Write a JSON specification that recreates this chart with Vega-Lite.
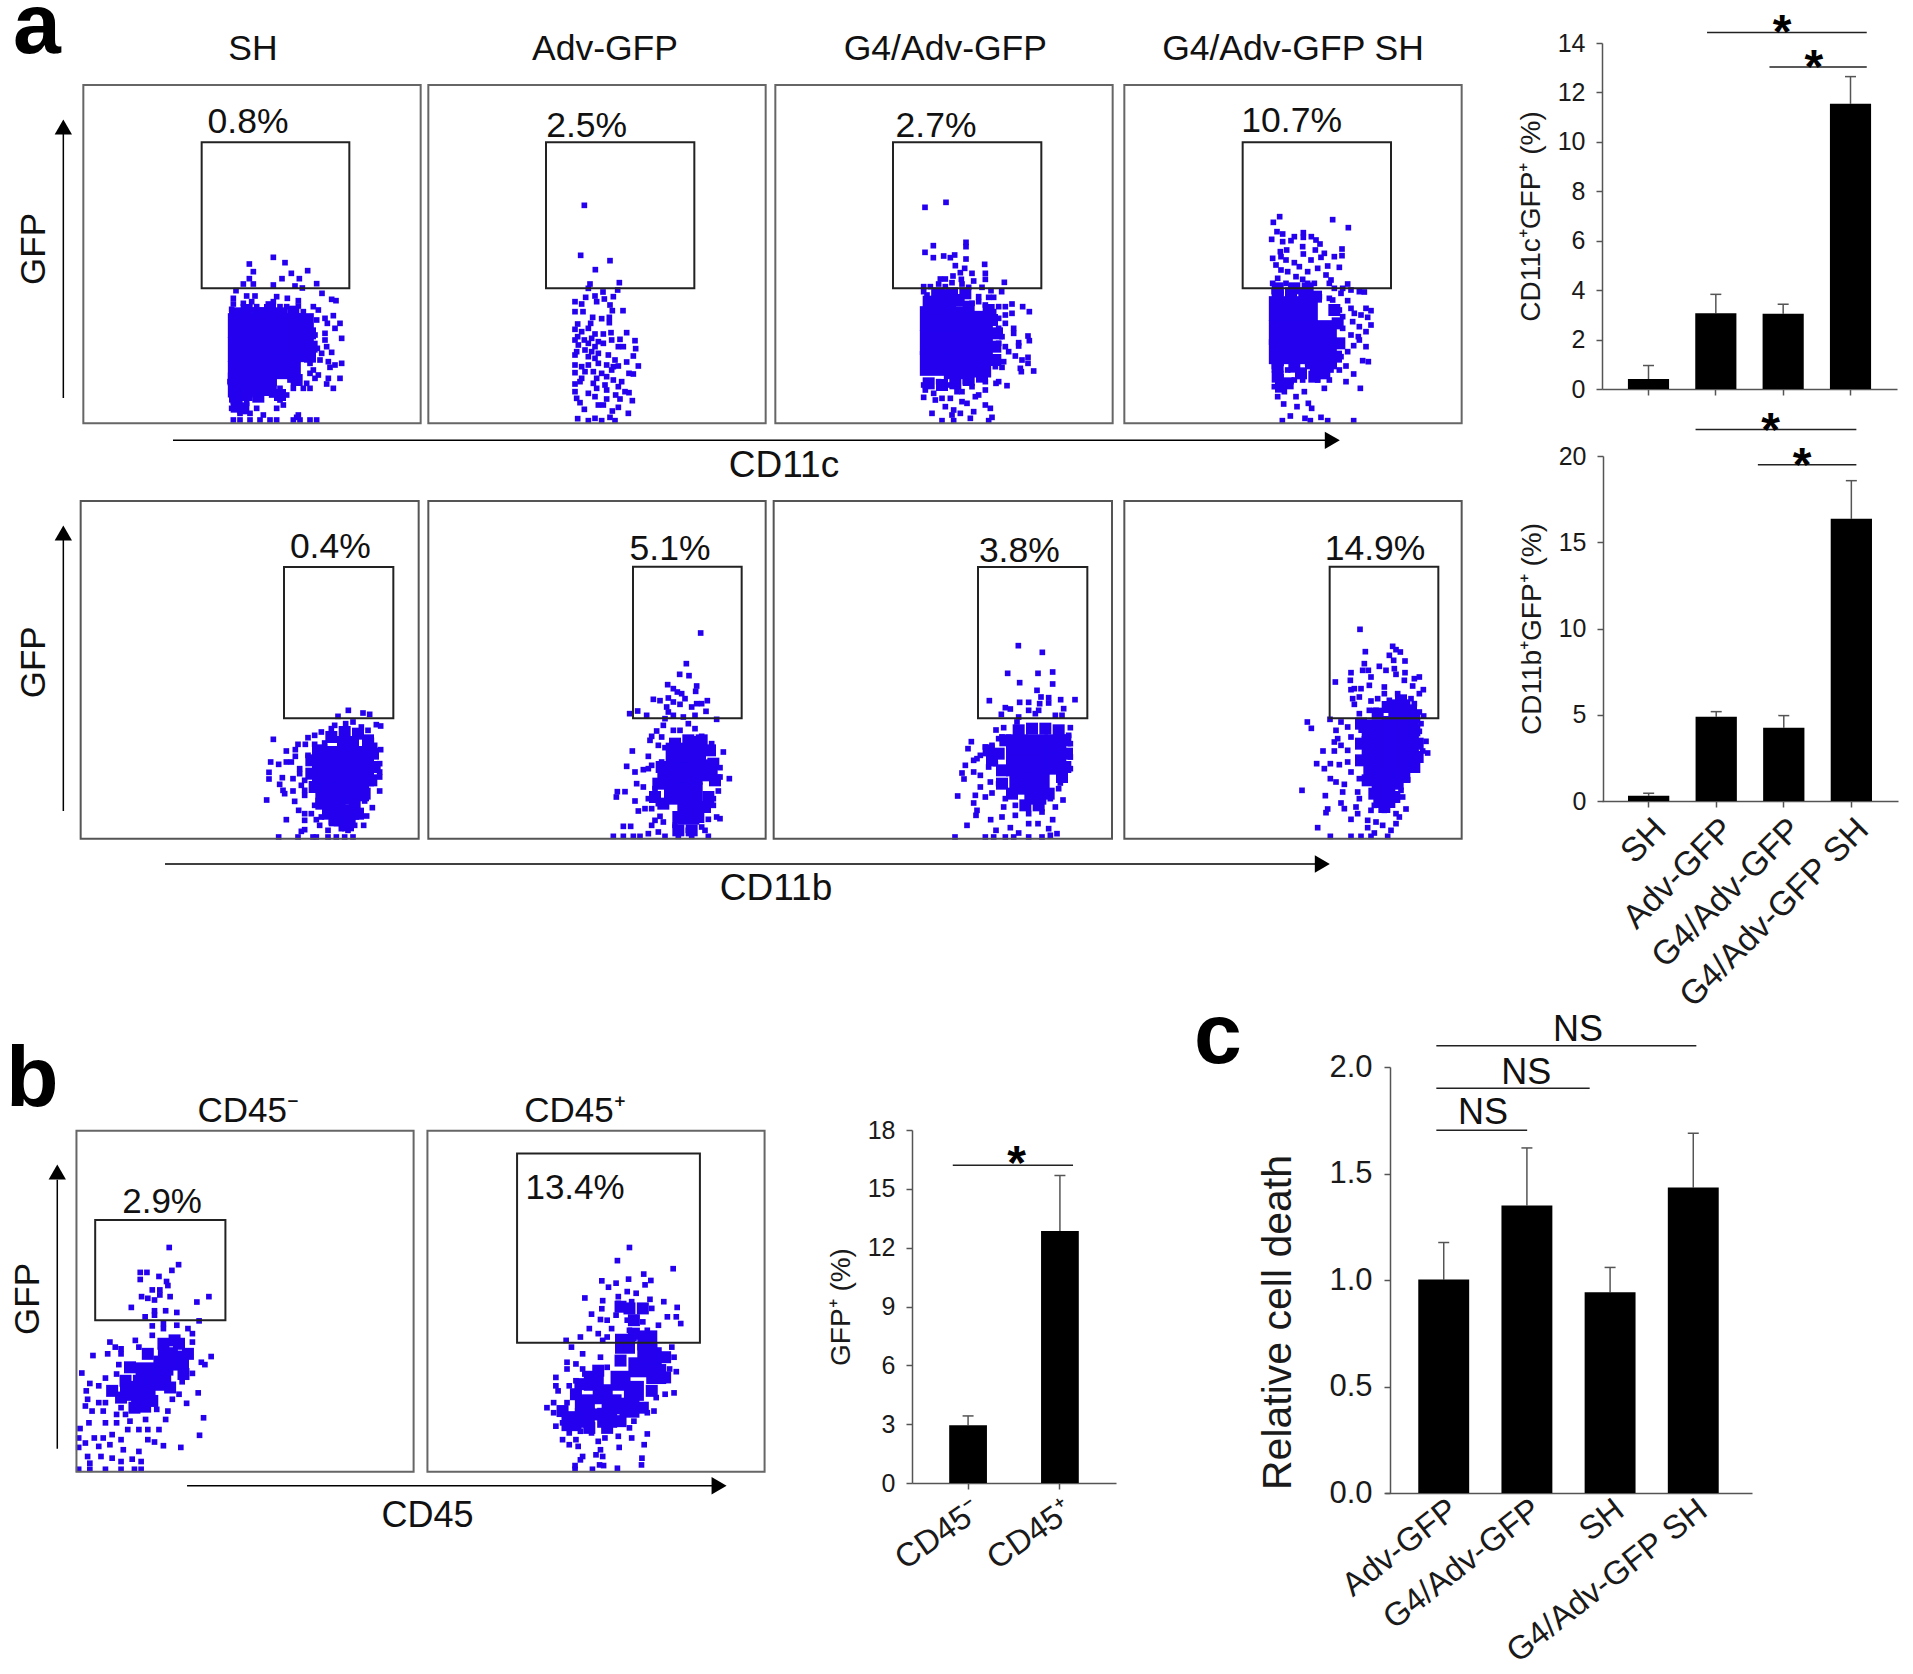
{"$schema":"https://vega.github.io/schema/vega-lite/v6.json","width":1913,"height":1674,"padding":0,"autosize":"none","background":"white",
"config":{"font":"Liberation Sans","view":{"stroke":null},"axis":{"grid":false,"domainColor":"#555","tickColor":"#555","domainWidth":1.5,"tickWidth":1.5,"tickSize":6,"labelColor":"#1a1a1a","titleColor":"#1a1a1a","titleFontWeight":"normal","labelFontSize":25,"labelOverlap":false,"labelPadding":11,"labelLimit":600}},
"resolve":{"scale":{"x":"independent","y":"independent"}},
"datasets":{
"a1m":[{"x":465,"y":700},{"x":500,"y":690},{"x":535,"y":700},{"x":570,"y":690},{"x":605,"y":700},{"x":640,"y":695},{"x":465,"y":950},{"x":500,"y":945},{"x":535,"y":950},{"x":570,"y":930},{"x":600,"y":945},{"x":690,"y":760},{"x":695,"y":800},{"x":690,"y":830},{"x":650,"y":900},{"x":470,"y":980},{"x":490,"y":985},{"x":640,"y":880}],
"a3m":[{"x":470,"y":665},{"x":560,"y":660},{"x":590,"y":680},{"x":650,"y":690},{"x":660,"y":720},{"x":675,"y":760},{"x":670,"y":800},{"x":670,"y":840},{"x":470,"y":910},{"x":510,"y":915},{"x":550,"y":910},{"x":590,"y":900},{"x":630,"y":890},{"x":540,"y":640},{"x":500,"y":640},{"x":580,"y":640}],
"a4m":[{"x":470,"y":645},{"x":510,"y":640},{"x":550,"y":640},{"x":585,"y":650},{"x":640,"y":690},{"x":650,"y":730},{"x":655,"y":790},{"x":645,"y":830},{"x":630,"y":850},{"x":470,"y":860},{"x":520,"y":860},{"x":570,"y":850},{"x":600,"y":860},{"x":470,"y":890},{"x":500,"y":910},{"x":480,"y":920},{"x":580,"y":890},{"x":610,"y":880},{"x":540,"y":880},{"x":470,"y":625},{"x":520,"y":625},{"x":560,"y":625}],
"r1m":[{"x":760,"y":720},{"x":800,"y":705},{"x":840,"y":710},{"x":870,"y":730},{"x":885,"y":770},{"x":890,"y":810},{"x":880,"y":850},{"x":860,"y":890},{"x":700,"y":790},{"x":700,"y":830},{"x":710,"y":870},{"x":730,"y":920},{"x":830,"y":925},{"x":770,"y":970},{"x":810,"y":985},{"x":750,"y":950},{"x":730,"y":760},{"x":840,"y":950}],
"r2m":[{"x":750,"y":740},{"x":790,"y":730},{"x":830,"y":730},{"x":855,"y":760},{"x":865,"y":800},{"x":870,"y":850},{"x":850,"y":900},{"x":710,"y":810},{"x":700,"y":860},{"x":690,"y":900},{"x":715,"y":920},{"x":840,"y":930},{"x":760,"y":960},{"x":820,"y":960},{"x":760,"y":1000},{"x":800,"y":1000},{"x":800,"y":735},{"x":715,"y":840}],
"r3m":[{"x":740,"y":700},{"x":780,"y":695},{"x":820,"y":695},{"x":860,"y":700},{"x":880,"y":730},{"x":885,"y":770},{"x":880,"y":810},{"x":700,"y":730},{"x":680,"y":770},{"x":660,"y":790},{"x":690,"y":820},{"x":690,"y":860},{"x":720,"y":890},{"x":830,"y":890},{"x":760,"y":925},{"x":800,"y":925},{"x":650,"y":760},{"x":870,"y":840}],
"r4m":[{"x":800,"y":630},{"x":840,"y":610},{"x":870,"y":640},{"x":770,"y":650},{"x":730,"y":690},{"x":880,"y":700},{"x":890,"y":740},{"x":890,"y":780},{"x":720,"y":740},{"x":720,"y":790},{"x":880,"y":810},{"x":850,"y":840},{"x":740,"y":850},{"x":830,"y":860},{"x":760,"y":890},{"x":820,"y":900},{"x":790,"y":930},{"x":720,"y":680},{"x":880,"y":660}],
"b1m":[{"x":120,"y":760},{"x":110,"y":810},{"x":140,"y":840},{"x":180,"y":820},{"x":220,"y":780},{"x":250,"y":740},{"x":260,"y":680},{"x":240,"y":650},{"x":205,"y":650},{"x":170,"y":680},{"x":130,"y":720},{"x":90,"y":790},{"x":150,"y":760},{"x":230,"y":640}],
"b2m":[{"x":1130,"y":800},{"x":1100,"y":850},{"x":1170,"y":860},{"x":1230,"y":880},{"x":1300,"y":790},{"x":1330,"y":750},{"x":1330,"y":690},{"x":1230,"y":700},{"x":1180,"y":730},{"x":1140,"y":770},{"x":1280,"y":840},{"x":1260,"y":580},{"x":1250,"y":545},{"x":1280,"y":545},{"x":1230,"y":540},{"x":1260,"y":620},{"x":1160,"y":900},{"x":1200,"y":900}],
"a1c":[{"x":481,"y":737},{"x":553,"y":737},{"x":625,"y":737},{"x":664,"y":737},{"x":481,"y":809},{"x":553,"y":809},{"x":625,"y":809},{"x":664,"y":809},{"x":481,"y":881},{"x":553,"y":881},{"x":625,"y":860},{"x":481,"y":915},{"x":553,"y":905}],
"a1":[{"x":580,"y":532},{"x":508,"y":552},{"x":615,"y":548},{"x":520,"y":575},{"x":683,"y":572},{"x":634,"y":580},{"x":508,"y":596},{"x":606,"y":596},{"x":658,"y":596},{"x":490,"y":612},{"x":580,"y":615},{"x":710,"y":611},{"x":520,"y":612},{"x":645,"y":618},{"x":667,"y":624},{"x":468,"y":632},{"x":726,"y":640},{"x":500,"y":648},{"x":525,"y":648},{"x":590,"y":650},{"x":460,"y":655},{"x":755,"y":658},{"x":768,"y":662},{"x":622,"y":655},{"x":655,"y":662},{"x":580,"y":665},{"x":565,"y":672},{"x":515,"y":665},{"x":460,"y":672},{"x":455,"y":688},{"x":490,"y":670},{"x":530,"y":680},{"x":620,"y":680},{"x":600,"y":680},{"x":655,"y":678},{"x":700,"y":680},{"x":715,"y":690},{"x":520,"y":690},{"x":670,"y":695},{"x":545,"y":690},{"x":760,"y":707},{"x":735,"y":715},{"x":710,"y":720},{"x":780,"y":730},{"x":742,"y":730},{"x":765,"y":745},{"x":690,"y":725},{"x":655,"y":715},{"x":735,"y":760},{"x":705,"y":765},{"x":785,"y":775},{"x":735,"y":780},{"x":712,"y":805},{"x":725,"y":820},{"x":755,"y":817},{"x":740,"y":800},{"x":785,"y":850},{"x":765,"y":855},{"x":745,"y":845},{"x":720,"y":840},{"x":690,"y":850},{"x":750,"y":862},{"x":700,"y":870},{"x":715,"y":885},{"x":690,"y":880},{"x":745,"y":895},{"x":780,"y":895},{"x":705,"y":895},{"x":740,"y":912},{"x":760,"y":925},{"x":690,"y":925},{"x":670,"y":925},{"x":680,"y":910},{"x":640,"y":925},{"x":620,"y":945},{"x":600,"y":960},{"x":610,"y":975},{"x":590,"y":985},{"x":575,"y":945},{"x":540,"y":945},{"x":500,"y":970},{"x":470,"y":950},{"x":460,"y":965},{"x":455,"y":985},{"x":480,"y":1000},{"x":530,"y":985},{"x":510,"y":1000},{"x":550,"y":1005},{"x":655,"y":1005},{"x":540,"y":1020},{"x":460,"y":1020},{"x":480,"y":1020},{"x":510,"y":1020},{"x":590,"y":1020},{"x":570,"y":1020},{"x":640,"y":1020},{"x":660,"y":1020},{"x":690,"y":1020},{"x":710,"y":1020},{"x":650,"y":1012},{"x":450,"y":905},{"x":455,"y":925},{"x":465,"y":940},{"x":490,"y":925},{"x":520,"y":935},{"x":630,"y":900},{"x":600,"y":925},{"x":560,"y":935}],
"a2":[{"x":478,"y":376},{"x":467,"y":526},{"x":555,"y":542},{"x":511,"y":569},{"x":495,"y":612},{"x":583,"y":608},{"x":490,"y":625},{"x":578,"y":630},{"x":534,"y":636},{"x":482,"y":652},{"x":510,"y":648},{"x":565,"y":650},{"x":450,"y":665},{"x":470,"y":672},{"x":515,"y":665},{"x":538,"y":657},{"x":555,"y":675},{"x":562,"y":692},{"x":594,"y":692},{"x":450,"y":695},{"x":474,"y":695},{"x":503,"y":712},{"x":530,"y":716},{"x":553,"y":712},{"x":553,"y":728},{"x":497,"y":730},{"x":458,"y":732},{"x":450,"y":748},{"x":470,"y":755},{"x":490,"y":745},{"x":458,"y":770},{"x":510,"y":762},{"x":535,"y":762},{"x":558,"y":758},{"x":605,"y":758},{"x":450,"y":780},{"x":478,"y":780},{"x":500,"y":775},{"x":520,"y":785},{"x":560,"y":780},{"x":585,"y":778},{"x":630,"y":782},{"x":460,"y":795},{"x":490,"y":790},{"x":510,"y":800},{"x":535,"y":790},{"x":580,"y":800},{"x":595,"y":800},{"x":632,"y":806},{"x":455,"y":815},{"x":480,"y":810},{"x":500,"y":815},{"x":520,"y":820},{"x":550,"y":825},{"x":625,"y":828},{"x":450,"y":825},{"x":490,"y":830},{"x":510,"y":835},{"x":570,"y":840},{"x":605,"y":846},{"x":450,"y":855},{"x":470,"y":860},{"x":490,"y":855},{"x":520,"y":850},{"x":545,"y":855},{"x":565,"y":860},{"x":580,"y":858},{"x":640,"y":858},{"x":450,"y":878},{"x":480,"y":875},{"x":505,"y":875},{"x":530,"y":880},{"x":560,"y":870},{"x":612,"y":880},{"x":625,"y":882},{"x":470,"y":895},{"x":515,"y":895},{"x":545,"y":890},{"x":565,"y":900},{"x":590,"y":905},{"x":450,"y":912},{"x":465,"y":905},{"x":505,"y":910},{"x":540,"y":915},{"x":580,"y":920},{"x":450,"y":935},{"x":490,"y":940},{"x":515,"y":925},{"x":545,"y":930},{"x":600,"y":935},{"x":612,"y":938},{"x":455,"y":955},{"x":510,"y":950},{"x":545,"y":957},{"x":572,"y":945},{"x":585,"y":957},{"x":622,"y":962},{"x":465,"y":968},{"x":520,"y":975},{"x":535,"y":975},{"x":580,"y":982},{"x":478,"y":988},{"x":562,"y":993},{"x":610,"y":1000},{"x":458,"y":1016},{"x":490,"y":1022},{"x":510,"y":1015},{"x":530,"y":1022},{"x":555,"y":1012},{"x":570,"y":1022}],
"a3c":[{"x":481,"y":716},{"x":553,"y":716},{"x":625,"y":730},{"x":481,"y":788},{"x":553,"y":788},{"x":625,"y":795},{"x":481,"y":850},{"x":553,"y":860},{"x":620,"y":855},{"x":515,"y":665}],
"a3":[{"x":522,"y":367},{"x":459,"y":382},{"x":582,"y":487},{"x":582,"y":500},{"x":484,"y":497},{"x":459,"y":517},{"x":484,"y":533},{"x":515,"y":528},{"x":535,"y":533},{"x":548,"y":525},{"x":582,"y":537},{"x":550,"y":557},{"x":638,"y":553},{"x":578,"y":565},{"x":565,"y":578},{"x":640,"y":580},{"x":600,"y":580},{"x":640,"y":598},{"x":543,"y":588},{"x":505,"y":597},{"x":520,"y":597},{"x":568,"y":598},{"x":605,"y":603},{"x":697,"y":607},{"x":500,"y":612},{"x":540,"y":608},{"x":570,"y":612},{"x":455,"y":620},{"x":475,"y":620},{"x":630,"y":622},{"x":455,"y":635},{"x":520,"y":620},{"x":590,"y":622},{"x":657,"y":632},{"x":689,"y":635},{"x":465,"y":645},{"x":620,"y":650},{"x":650,"y":652},{"x":665,"y":652},{"x":620,"y":665},{"x":600,"y":670},{"x":640,"y":675},{"x":720,"y":672},{"x":752,"y":680},{"x":772,"y":695},{"x":680,"y":680},{"x":700,"y":680},{"x":720,"y":700},{"x":665,"y":695},{"x":700,"y":705},{"x":680,"y":715},{"x":665,"y":715},{"x":700,"y":730},{"x":725,"y":745},{"x":680,"y":745},{"x":725,"y":760},{"x":690,"y":770},{"x":768,"y":768},{"x":772,"y":782},{"x":740,"y":788},{"x":740,"y":798},{"x":700,"y":800},{"x":680,"y":790},{"x":710,"y":815},{"x":730,"y":828},{"x":768,"y":832},{"x":750,"y":840},{"x":768,"y":850},{"x":695,"y":845},{"x":690,"y":862},{"x":745,"y":865},{"x":748,"y":875},{"x":785,"y":873},{"x":670,"y":860},{"x":680,"y":905},{"x":672,"y":910},{"x":705,"y":917},{"x":640,"y":905},{"x":600,"y":920},{"x":570,"y":935},{"x":640,"y":930},{"x":620,"y":945},{"x":455,"y":915},{"x":460,"y":930},{"x":455,"y":952},{"x":485,"y":940},{"x":490,"y":960},{"x":510,"y":955},{"x":535,"y":955},{"x":555,"y":935},{"x":610,"y":950},{"x":570,"y":965},{"x":585,"y":970},{"x":640,"y":975},{"x":655,"y":985},{"x":480,"y":1000},{"x":545,"y":990},{"x":540,"y":1005},{"x":565,"y":1000},{"x":605,"y":995},{"x":660,"y":1012},{"x":510,"y":1022},{"x":545,"y":1022},{"x":595,"y":1015},{"x":650,"y":1022},{"x":520,"y":980},{"x":500,"y":905},{"x":530,"y":915},{"x":580,"y":905}],
"a4c":[{"x":481,"y":686},{"x":553,"y":686},{"x":481,"y":758},{"x":553,"y":758},{"x":610,"y":758},{"x":481,"y":815},{"x":553,"y":815},{"x":610,"y":810}],
"a4":[{"x":476,"y":410},{"x":635,"y":419},{"x":457,"y":427},{"x":682,"y":443},{"x":468,"y":455},{"x":485,"y":462},{"x":547,"y":458},{"x":547,"y":472},{"x":520,"y":470},{"x":571,"y":470},{"x":452,"y":478},{"x":485,"y":485},{"x":510,"y":482},{"x":585,"y":480},{"x":597,"y":492},{"x":545,"y":500},{"x":478,"y":515},{"x":497,"y":510},{"x":663,"y":507},{"x":583,"y":510},{"x":547,"y":522},{"x":610,"y":520},{"x":663,"y":527},{"x":640,"y":530},{"x":480,"y":530},{"x":455,"y":535},{"x":570,"y":540},{"x":600,"y":532},{"x":495,"y":540},{"x":520,"y":548},{"x":465,"y":555},{"x":535,"y":560},{"x":620,"y":558},{"x":655,"y":562},{"x":590,"y":565},{"x":560,"y":575},{"x":480,"y":570},{"x":500,"y":575},{"x":615,"y":585},{"x":525,"y":590},{"x":470,"y":595},{"x":630,"y":600},{"x":455,"y":610},{"x":545,"y":598},{"x":495,"y":610},{"x":560,"y":610},{"x":680,"y":612},{"x":580,"y":610},{"x":510,"y":620},{"x":625,"y":610},{"x":665,"y":625},{"x":640,"y":625},{"x":690,"y":630},{"x":715,"y":635},{"x":730,"y":636},{"x":460,"y":635},{"x":480,"y":640},{"x":625,"y":655},{"x":660,"y":640},{"x":595,"y":650},{"x":680,"y":662},{"x":635,"y":660},{"x":655,"y":690},{"x":690,"y":685},{"x":735,"y":685},{"x":750,"y":692},{"x":700,"y":700},{"x":720,"y":705},{"x":740,"y":712},{"x":665,"y":710},{"x":695,"y":725},{"x":750,"y":735},{"x":715,"y":740},{"x":735,"y":755},{"x":665,"y":745},{"x":690,"y":765},{"x":712,"y":770},{"x":715,"y":780},{"x":698,"y":797},{"x":735,"y":800},{"x":680,"y":815},{"x":660,"y":830},{"x":725,"y":842},{"x":742,"y":845},{"x":675,"y":858},{"x":655,"y":870},{"x":698,"y":882},{"x":675,"y":905},{"x":718,"y":925},{"x":610,"y":925},{"x":625,"y":900},{"x":470,"y":950},{"x":460,"y":920},{"x":490,"y":935},{"x":510,"y":905},{"x":550,"y":935},{"x":545,"y":900},{"x":590,"y":900},{"x":460,"y":860},{"x":480,"y":890},{"x":525,"y":950},{"x":488,"y":972},{"x":528,"y":980},{"x":562,"y":970},{"x":572,"y":985},{"x":508,"y":1008},{"x":552,"y":1015},{"x":600,"y":1012},{"x":620,"y":1022},{"x":698,"y":1022},{"x":484,"y":1022},{"x":568,"y":1022},{"x":465,"y":880},{"x":575,"y":870},{"x":600,"y":880},{"x":630,"y":870},{"x":500,"y":870},{"x":520,"y":900},{"x":480,"y":850},{"x":560,"y":850}],
"r1c":[{"x":735,"y":780},{"x":795,"y":780},{"x":855,"y":780},{"x":735,"y":840},{"x":795,"y":840},{"x":855,"y":835},{"x":745,"y":890},{"x":795,"y":890},{"x":840,"y":880},{"x":770,"y":930},{"x":800,"y":955},{"x":810,"y":750}],
"r1":[{"x":811,"y":640},{"x":855,"y":648},{"x":875,"y":652},{"x":780,"y":658},{"x":803,"y":680},{"x":825,"y":675},{"x":770,"y":685},{"x":895,"y":683},{"x":908,"y":687},{"x":850,"y":690},{"x":760,"y":695},{"x":800,"y":700},{"x":870,"y":700},{"x":730,"y":705},{"x":690,"y":722},{"x":710,"y":715},{"x":586,"y":727},{"x":880,"y":730},{"x":740,"y":738},{"x":660,"y":742},{"x":682,"y":742},{"x":710,"y":742},{"x":890,"y":745},{"x":625,"y":762},{"x":652,"y":758},{"x":908,"y":758},{"x":690,"y":775},{"x":652,"y":778},{"x":578,"y":795},{"x":602,"y":802},{"x":625,"y":795},{"x":640,"y":795},{"x":905,"y":800},{"x":905,"y":825},{"x":573,"y":826},{"x":665,"y":815},{"x":613,"y":842},{"x":573,"y":846},{"x":645,"y":845},{"x":665,"y":830},{"x":680,"y":850},{"x":905,"y":840},{"x":605,"y":862},{"x":670,"y":865},{"x":615,"y":880},{"x":645,"y":882},{"x":680,"y":880},{"x":905,"y":882},{"x":620,"y":890},{"x":680,"y":895},{"x":566,"y":909},{"x":650,"y":913},{"x":860,"y":912},{"x":710,"y":925},{"x":662,"y":940},{"x":883,"y":932},{"x":680,"y":950},{"x":700,"y":950},{"x":625,"y":968},{"x":866,"y":957},{"x":680,"y":970},{"x":715,"y":968},{"x":730,"y":960},{"x":760,"y":975},{"x":835,"y":960},{"x":725,"y":985},{"x":830,"y":985},{"x":857,"y":985},{"x":680,"y":998},{"x":670,"y":1003},{"x":750,"y":1000},{"x":790,"y":995},{"x":810,"y":1000},{"x":602,"y":1020},{"x":660,"y":1020},{"x":705,"y":1020},{"x":715,"y":1020},{"x":750,"y":1020},{"x":775,"y":1020},{"x":800,"y":1020},{"x":825,"y":1020}],
"r2c":[{"x":755,"y":770},{"x":810,"y":770},{"x":750,"y":830},{"x":800,"y":830},{"x":845,"y":820},{"x":750,"y":890},{"x":800,"y":890},{"x":790,"y":950}],
"r2":[{"x":827,"y":408},{"x":784,"y":500},{"x":764,"y":532},{"x":792,"y":536},{"x":728,"y":563},{"x":815,"y":567},{"x":745,"y":575},{"x":812,"y":583},{"x":757,"y":585},{"x":770,"y":590},{"x":685,"y":607},{"x":705,"y":611},{"x":730,"y":603},{"x":745,"y":615},{"x":780,"y":605},{"x":847,"y":611},{"x":815,"y":620},{"x":725,"y":630},{"x":765,"y":622},{"x":800,"y":630},{"x":830,"y":620},{"x":638,"y":642},{"x":614,"y":650},{"x":843,"y":643},{"x":730,"y":645},{"x":665,"y":655},{"x":745,"y":655},{"x":775,"y":660},{"x":810,"y":655},{"x":720,"y":665},{"x":875,"y":667},{"x":715,"y":685},{"x":790,"y":680},{"x":810,"y":695},{"x":745,"y":700},{"x":765,"y":700},{"x":695,"y":702},{"x":680,"y":718},{"x":710,"y":720},{"x":830,"y":718},{"x":675,"y":730},{"x":860,"y":740},{"x":700,"y":745},{"x":720,"y":752},{"x":622,"y":762},{"x":895,"y":765},{"x":670,"y":778},{"x":680,"y":805},{"x":605,"y":808},{"x":885,"y":812},{"x":630,"y":825},{"x":655,"y":818},{"x":670,"y":815},{"x":710,"y":795},{"x":885,"y":840},{"x":913,"y":845},{"x":635,"y":860},{"x":655,"y":870},{"x":690,"y":875},{"x":880,"y":882},{"x":600,"y":884},{"x":577,"y":884},{"x":574,"y":900},{"x":670,"y":905},{"x":690,"y":895},{"x":865,"y":905},{"x":630,"y":912},{"x":865,"y":925},{"x":640,"y":942},{"x":660,"y":935},{"x":680,"y":935},{"x":700,"y":920},{"x":850,"y":967},{"x":875,"y":960},{"x":885,"y":965},{"x":705,"y":958},{"x":690,"y":970},{"x":715,"y":975},{"x":680,"y":985},{"x":595,"y":988},{"x":617,"y":988},{"x":700,"y":1005},{"x":840,"y":1000},{"x":565,"y":1018},{"x":595,"y":1018},{"x":625,"y":1018},{"x":645,"y":1018},{"x":670,"y":1010},{"x":720,"y":1018},{"x":760,"y":1018},{"x":800,"y":1018},{"x":850,"y":1018},{"x":830,"y":990},{"x":750,"y":985},{"x":790,"y":1000}],
"r3c":[{"x":735,"y":745},{"x":795,"y":745},{"x":850,"y":745},{"x":735,"y":805},{"x":795,"y":805},{"x":850,"y":800},{"x":745,"y":860},{"x":800,"y":860},{"x":790,"y":890}],
"r3":[{"x":739,"y":446},{"x":811,"y":466},{"x":707,"y":529},{"x":798,"y":529},{"x":842,"y":525},{"x":743,"y":557},{"x":842,"y":561},{"x":795,"y":580},{"x":807,"y":600},{"x":830,"y":602},{"x":652,"y":611},{"x":743,"y":616},{"x":770,"y":616},{"x":803,"y":620},{"x":866,"y":608},{"x":909,"y":608},{"x":830,"y":618},{"x":700,"y":632},{"x":715,"y":636},{"x":770,"y":640},{"x":875,"y":635},{"x":800,"y":640},{"x":688,"y":652},{"x":740,"y":660},{"x":790,"y":650},{"x":850,"y":655},{"x":870,"y":655},{"x":735,"y":675},{"x":695,"y":692},{"x":672,"y":699},{"x":895,"y":692},{"x":890,"y":715},{"x":680,"y":725},{"x":598,"y":734},{"x":640,"y":750},{"x":660,"y":745},{"x":588,"y":755},{"x":895,"y":740},{"x":625,"y":775},{"x":650,"y":770},{"x":605,"y":790},{"x":615,"y":785},{"x":895,"y":780},{"x":580,"y":805},{"x":570,"y":828},{"x":605,"y":825},{"x":895,"y":815},{"x":650,"y":810},{"x":625,"y":835},{"x":576,"y":846},{"x":655,"y":855},{"x":625,"y":870},{"x":660,"y":888},{"x":680,"y":860},{"x":865,"y":858},{"x":860,"y":875},{"x":557,"y":897},{"x":610,"y":895},{"x":640,"y":900},{"x":605,"y":918},{"x":700,"y":905},{"x":835,"y":905},{"x":873,"y":909},{"x":695,"y":930},{"x":730,"y":925},{"x":850,"y":930},{"x":615,"y":940},{"x":612,"y":955},{"x":690,"y":960},{"x":730,"y":955},{"x":770,"y":950},{"x":810,"y":945},{"x":656,"y":968},{"x":842,"y":968},{"x":770,"y":980},{"x":798,"y":980},{"x":585,"y":985},{"x":715,"y":992},{"x":672,"y":1000},{"x":830,"y":995},{"x":740,"y":1008},{"x":549,"y":1020},{"x":640,"y":1020},{"x":665,"y":1020},{"x":700,"y":1020},{"x":725,"y":1020},{"x":770,"y":1020},{"x":810,"y":1020},{"x":835,"y":1015},{"x":855,"y":1010},{"x":680,"y":770},{"x":670,"y":800},{"x":655,"y":785},{"x":690,"y":720}],
"r4c":[{"x":755,"y":700},{"x":815,"y":690},{"x":860,"y":690},{"x":755,"y":750},{"x":815,"y":750},{"x":860,"y":750},{"x":760,"y":810},{"x":815,"y":810},{"x":860,"y":790},{"x":785,"y":860},{"x":790,"y":900},{"x":835,"y":640}],
"r4":[{"x":717,"y":397},{"x":815,"y":448},{"x":825,"y":458},{"x":838,"y":465},{"x":733,"y":464},{"x":805,"y":475},{"x":852,"y":492},{"x":730,"y":500},{"x":818,"y":490},{"x":775,"y":508},{"x":820,"y":515},{"x":725,"y":520},{"x":742,"y":520},{"x":690,"y":527},{"x":795,"y":520},{"x":852,"y":527},{"x":825,"y":532},{"x":750,"y":540},{"x":688,"y":550},{"x":850,"y":550},{"x":895,"y":540},{"x":880,"y":545},{"x":643,"y":555},{"x":700,"y":575},{"x":745,"y":565},{"x":790,"y":570},{"x":875,"y":567},{"x":907,"y":578},{"x":690,"y":578},{"x":720,"y":575},{"x":895,"y":590},{"x":715,"y":600},{"x":695,"y":605},{"x":790,"y":590},{"x":830,"y":590},{"x":750,"y":612},{"x":770,"y":605},{"x":700,"y":622},{"x":805,"y":610},{"x":870,"y":605},{"x":880,"y":620},{"x":745,"y":640},{"x":715,"y":650},{"x":765,"y":640},{"x":895,"y":645},{"x":908,"y":657},{"x":627,"y":667},{"x":660,"y":675},{"x":559,"y":675},{"x":571,"y":694},{"x":680,"y":690},{"x":900,"y":680},{"x":645,"y":700},{"x":895,"y":703},{"x":650,"y":725},{"x":690,"y":720},{"x":640,"y":735},{"x":915,"y":733},{"x":660,"y":745},{"x":905,"y":762},{"x":680,"y":760},{"x":606,"y":762},{"x":640,"y":762},{"x":920,"y":768},{"x":587,"y":800},{"x":628,"y":800},{"x":655,"y":803},{"x":680,"y":795},{"x":610,"y":815},{"x":690,"y":825},{"x":628,"y":845},{"x":645,"y":855},{"x":715,"y":845},{"x":860,"y":848},{"x":670,"y":862},{"x":665,"y":885},{"x":543,"y":880},{"x":710,"y":885},{"x":840,"y":880},{"x":613,"y":896},{"x":845,"y":900},{"x":715,"y":905},{"x":660,"y":918},{"x":620,"y":936},{"x":670,"y":935},{"x":615,"y":947},{"x":705,"y":930},{"x":710,"y":950},{"x":750,"y":940},{"x":855,"y":936},{"x":825,"y":950},{"x":835,"y":960},{"x":690,"y":967},{"x":740,"y":970},{"x":765,"y":975},{"x":825,"y":980},{"x":590,"y":992},{"x":740,"y":992},{"x":785,"y":985},{"x":810,"y":1000},{"x":760,"y":1008},{"x":628,"y":1018},{"x":690,"y":1018},{"x":720,"y":1018},{"x":750,"y":1018},{"x":800,"y":1018},{"x":790,"y":940},{"x":760,"y":925}],
"b1c":[{"x":165,"y":790},{"x":200,"y":760},{"x":165,"y":735},{"x":205,"y":715},{"x":240,"y":700},{"x":130,"y":790},{"x":155,"y":825},{"x":215,"y":690}],
"b1":[{"x":218,"y":364},{"x":239,"y":415},{"x":224,"y":432},{"x":153,"y":438},{"x":168,"y":438},{"x":195,"y":450},{"x":153,"y":459},{"x":212,"y":465},{"x":215,"y":477},{"x":180,"y":490},{"x":197,"y":490},{"x":197,"y":505},{"x":156,"y":510},{"x":170,"y":515},{"x":220,"y":510},{"x":185,"y":520},{"x":307,"y":510},{"x":280,"y":526},{"x":133,"y":542},{"x":185,"y":552},{"x":210,"y":552},{"x":235,"y":557},{"x":164,"y":570},{"x":185,"y":565},{"x":285,"y":582},{"x":205,"y":590},{"x":180,"y":597},{"x":235,"y":595},{"x":260,"y":605},{"x":205,"y":605},{"x":180,"y":625},{"x":270,"y":620},{"x":142,"y":640},{"x":85,"y":645},{"x":97,"y":660},{"x":110,"y":665},{"x":150,"y":660},{"x":270,"y":645},{"x":47,"y":685},{"x":80,"y":680},{"x":110,"y":680},{"x":312,"y":688},{"x":290,"y":705},{"x":298,"y":712},{"x":105,"y":712},{"x":100,"y":740},{"x":22,"y":737},{"x":270,"y":738},{"x":75,"y":752},{"x":40,"y":768},{"x":247,"y":763},{"x":60,"y":775},{"x":32,"y":790},{"x":85,"y":790},{"x":283,"y":796},{"x":240,"y":800},{"x":225,"y":815},{"x":257,"y":827},{"x":35,"y":815},{"x":60,"y":825},{"x":30,"y":835},{"x":75,"y":825},{"x":45,"y":850},{"x":70,"y":850},{"x":100,"y":860},{"x":215,"y":850},{"x":295,"y":870},{"x":210,"y":875},{"x":165,"y":875},{"x":38,"y":885},{"x":75,"y":885},{"x":100,"y":885},{"x":18,"y":902},{"x":125,"y":905},{"x":150,"y":905},{"x":170,"y":905},{"x":195,"y":905},{"x":90,"y":920},{"x":286,"y":922},{"x":15,"y":930},{"x":170,"y":935},{"x":185,"y":942},{"x":50,"y":930},{"x":70,"y":930},{"x":30,"y":945},{"x":110,"y":935},{"x":60,"y":955},{"x":205,"y":953},{"x":244,"y":958},{"x":15,"y":958},{"x":115,"y":965},{"x":150,"y":970},{"x":85,"y":950},{"x":35,"y":985},{"x":65,"y":985},{"x":90,"y":990},{"x":135,"y":993},{"x":155,"y":1000},{"x":110,"y":1000},{"x":40,"y":1005},{"x":15,"y":1023},{"x":40,"y":1023},{"x":75,"y":1023},{"x":110,"y":1023},{"x":140,"y":1023},{"x":155,"y":1023},{"x":120,"y":860},{"x":110,"y":840},{"x":190,"y":845},{"x":130,"y":880}],
"b2c":[{"x":1150,"y":830},{"x":1190,"y":800},{"x":1230,"y":760},{"x":1270,"y":720},{"x":1300,"y":690},{"x":1210,"y":830},{"x":1260,"y":790},{"x":1310,"y":740},{"x":1150,"y":870},{"x":1200,"y":870},{"x":1250,"y":840},{"x":1120,"y":880},{"x":1290,"y":640},{"x":1240,"y":650},{"x":1290,"y":680},{"x":1170,"y":760}],
"b2":[{"x":1250,"y":364},{"x":1223,"y":403},{"x":1348,"y":427},{"x":1282,"y":443},{"x":1188,"y":463},{"x":1220,"y":470},{"x":1248,"y":458},{"x":1298,"y":462},{"x":1285,"y":475},{"x":1203,"y":482},{"x":1245,"y":495},{"x":1265,"y":500},{"x":1225,"y":510},{"x":1150,"y":514},{"x":1190,"y":522},{"x":1296,"y":518},{"x":1327,"y":525},{"x":1225,"y":530},{"x":1255,"y":525},{"x":1357,"y":542},{"x":1188,"y":546},{"x":1240,"y":545},{"x":1275,"y":550},{"x":1300,"y":545},{"x":1165,"y":562},{"x":1335,"y":570},{"x":1355,"y":570},{"x":1220,"y":565},{"x":1245,"y":580},{"x":1185,"y":578},{"x":1280,"y":585},{"x":1365,"y":590},{"x":1200,"y":580},{"x":1315,"y":595},{"x":1160,"y":605},{"x":1210,"y":605},{"x":1250,"y":610},{"x":1290,"y":610},{"x":1300,"y":625},{"x":1140,"y":630},{"x":1180,"y":620},{"x":1108,"y":640},{"x":1200,"y":630},{"x":1260,"y":635},{"x":1120,"y":660},{"x":1190,"y":640},{"x":1345,"y":660},{"x":1145,"y":680},{"x":1110,"y":705},{"x":1130,"y":710},{"x":1350,"y":690},{"x":1185,"y":690},{"x":1145,"y":725},{"x":1110,"y":725},{"x":1340,"y":725},{"x":1355,"y":733},{"x":1150,"y":740},{"x":1085,"y":750},{"x":1130,"y":760},{"x":1200,"y":720},{"x":1085,"y":775},{"x":1115,"y":775},{"x":1090,"y":790},{"x":1350,"y":796},{"x":1330,"y":800},{"x":1310,"y":810},{"x":1080,"y":825},{"x":1065,"y":840},{"x":1110,"y":825},{"x":1080,"y":855},{"x":1305,"y":850},{"x":1105,"y":860},{"x":1290,"y":855},{"x":1085,"y":895},{"x":1100,"y":885},{"x":1260,"y":880},{"x":1250,"y":900},{"x":1290,"y":918},{"x":1115,"y":915},{"x":1140,"y":910},{"x":1165,"y":915},{"x":1225,"y":925},{"x":1100,"y":935},{"x":1130,"y":935},{"x":1255,"y":930},{"x":1180,"y":940},{"x":1195,"y":930},{"x":1115,"y":950},{"x":1135,"y":955},{"x":1283,"y":950},{"x":1185,"y":965},{"x":1227,"y":958},{"x":1145,"y":985},{"x":1175,"y":980},{"x":1190,"y":985},{"x":1278,"y":990},{"x":1140,"y":995},{"x":1183,"y":1010},{"x":1277,"y":1010},{"x":1128,"y":1012},{"x":1192,"y":1012},{"x":1128,"y":1023},{"x":1167,"y":1023},{"x":1223,"y":1020}]
},
"layer":[
{"encoding":{"x":{"field":"x","type":"quantitative","scale":{"domain":[0,1035],"range":[80,425]},"axis":null},"y":{"field":"y","type":"quantitative","scale":{"domain":[0,1035],"range":[80,425]},"axis":null}},
"layer":[
{"data":{"name":"a1c"},"mark":{"type":"square","size":625,"opacity":1,"color":"#2400ee"}},
{"data":{"name":"a1m"},"mark":{"type":"square","size":144,"opacity":1,"color":"#2400ee"}},
{"data":{"name":"a1"},"mark":{"type":"square","size":32,"opacity":1,"color":"#2400ee"}},
{"data":{"values":[{"x":10,"x2":1022,"y":15,"y2":1030,"k":"frame"}]},"mark":{"type":"rect","fill":"transparent","stroke":"#666","strokeWidth":2},"encoding":{"x2":{"field":"x2"},"y2":{"field":"y2"}}},
{"data":{"values":[{"x":365,"x2":808,"y":187,"y2":625}]},"mark":{"type":"rect","fill":"transparent","stroke":"#222","strokeWidth":2},"encoding":{"x2":{"field":"x2"},"y2":{"field":"y2"}}},
{"data":{"values":[{"x":-50,"x2":-50,"y":954,"y2":156},{"x":279,"x2":3742,"y":1081,"y2":1081}]},"mark":{"type":"rule","color":"black","strokeWidth":1.5},"encoding":{"x2":{"field":"x2"},"y2":{"field":"y2"}}},
{"data":{"values":[{"x":-50,"y":141}]},"mark":{"type":"point","shape":"triangle-up","filled":true,"size":300,"opacity":1,"color":"black"}},
{"data":{"values":[{"x":3757,"y":1081}]},"mark":{"type":"point","shape":"triangle-right","filled":true,"size":300,"opacity":1,"color":"black"}},
{"data":{"values":[{"x":504,"y":158,"t":"0.8%"},{"x":519,"y":-60,"t":"SH"}]},"mark":{"type":"text","fontSize":35.5,"color":"#111","baseline":"alphabetic"},"encoding":{"text":{"field":"t"}}},
{"data":{"values":[{"x":2112,"y":1158,"t":"CD11c"}]},"mark":{"type":"text","fontSize":37,"color":"#111","baseline":"middle"},"encoding":{"text":{"field":"t"}}},
{"data":{"values":[{"x":-138,"y":507,"t":"GFP"}]},"mark":{"type":"text","fontSize":35,"color":"#111","baseline":"middle","angle":270},"encoding":{"text":{"field":"t"}}},
{"data":{"values":[{"x":-129,"y":-80,"t":"a"}]},"mark":{"type":"text","fontSize":86,"fontWeight":"bold","color":"black","baseline":"alphabetic"},"encoding":{"text":{"field":"t"}}}
]},
{"encoding":{"x":{"field":"x","type":"quantitative","scale":{"domain":[0,1035],"range":[425,770]},"axis":null},"y":{"field":"y","type":"quantitative","scale":{"domain":[0,1035],"range":[80,425]},"axis":null}},
"layer":[
{"data":{"name":"a2"},"mark":{"type":"square","size":32,"opacity":1,"color":"#2400ee"}},
{"data":{"values":[{"x":10,"x2":1022,"y":15,"y2":1030}]},"mark":{"type":"rect","fill":"transparent","stroke":"#666","strokeWidth":2},"encoding":{"x2":{"field":"x2"},"y2":{"field":"y2"}}},
{"data":{"values":[{"x":363,"x2":808,"y":187,"y2":625}]},"mark":{"type":"rect","fill":"transparent","stroke":"#222","strokeWidth":2},"encoding":{"x2":{"field":"x2"},"y2":{"field":"y2"}}},
{"data":{"values":[{"x":485,"y":172,"t":"2.5%"},{"x":540,"y":-60,"t":"Adv-GFP"}]},"mark":{"type":"text","fontSize":35.5,"color":"#111","baseline":"alphabetic"},"encoding":{"text":{"field":"t"}}}
]},
{"encoding":{"x":{"field":"x","type":"quantitative","scale":{"domain":[0,1035],"range":[772,1117]},"axis":null},"y":{"field":"y","type":"quantitative","scale":{"domain":[0,1035],"range":[80,425]},"axis":null}},
"layer":[
{"data":{"name":"a3c"},"mark":{"type":"square","size":625,"opacity":1,"color":"#2400ee"}},
{"data":{"name":"a3m"},"mark":{"type":"square","size":144,"opacity":1,"color":"#2400ee"}},
{"data":{"name":"a3"},"mark":{"type":"square","size":32,"opacity":1,"color":"#2400ee"}},
{"data":{"values":[{"x":10,"x2":1022,"y":15,"y2":1030}]},"mark":{"type":"rect","fill":"transparent","stroke":"#666","strokeWidth":2},"encoding":{"x2":{"field":"x2"},"y2":{"field":"y2"}}},
{"data":{"values":[{"x":363,"x2":808,"y":187,"y2":625}]},"mark":{"type":"rect","fill":"transparent","stroke":"#222","strokeWidth":2},"encoding":{"x2":{"field":"x2"},"y2":{"field":"y2"}}},
{"data":{"values":[{"x":492,"y":172,"t":"2.7%"},{"x":520,"y":-60,"t":"G4/Adv-GFP"}]},"mark":{"type":"text","fontSize":35.5,"color":"#111","baseline":"alphabetic"},"encoding":{"text":{"field":"t"}}}
]},
{"encoding":{"x":{"field":"x","type":"quantitative","scale":{"domain":[0,1035],"range":[1121,1466]},"axis":null},"y":{"field":"y","type":"quantitative","scale":{"domain":[0,1035],"range":[80,425]},"axis":null}},
"layer":[
{"data":{"name":"a4c"},"mark":{"type":"square","size":625,"opacity":1,"color":"#2400ee"}},
{"data":{"name":"a4m"},"mark":{"type":"square","size":144,"opacity":1,"color":"#2400ee"}},
{"data":{"name":"a4"},"mark":{"type":"square","size":32,"opacity":1,"color":"#2400ee"}},
{"data":{"values":[{"x":10,"x2":1022,"y":15,"y2":1030}]},"mark":{"type":"rect","fill":"transparent","stroke":"#666","strokeWidth":2},"encoding":{"x2":{"field":"x2"},"y2":{"field":"y2"}}},
{"data":{"values":[{"x":365,"x2":810,"y":187,"y2":625}]},"mark":{"type":"rect","fill":"transparent","stroke":"#222","strokeWidth":2},"encoding":{"x2":{"field":"x2"},"y2":{"field":"y2"}}},
{"data":{"values":[{"x":512,"y":156,"t":"10.7%"},{"x":516,"y":-60,"t":"G4/Adv-GFP SH"}]},"mark":{"type":"text","fontSize":35.5,"color":"#111","baseline":"alphabetic"},"encoding":{"text":{"field":"t"}}}
]},
{"encoding":{"x":{"field":"x","type":"quantitative","scale":{"domain":[0,1035],"range":[78,423]},"axis":null},"y":{"field":"y","type":"quantitative","scale":{"domain":[0,1035],"range":[497,842]},"axis":null}},
"layer":[
{"data":{"name":"r1c"},"mark":{"type":"square","size":484,"opacity":1,"color":"#2400ee"}},
{"data":{"name":"r1m"},"mark":{"type":"square","size":144,"opacity":1,"color":"#2400ee"}},
{"data":{"name":"r1"},"mark":{"type":"square","size":32,"opacity":1,"color":"#2400ee"}},
{"data":{"values":[{"x":8,"x2":1022,"y":12,"y2":1025}]},"mark":{"type":"rect","fill":"transparent","stroke":"#555","strokeWidth":2},"encoding":{"x2":{"field":"x2"},"y2":{"field":"y2"}}},
{"data":{"values":[{"x":618,"x2":946,"y":210,"y2":664}]},"mark":{"type":"rect","fill":"transparent","stroke":"#222","strokeWidth":2},"encoding":{"x2":{"field":"x2"},"y2":{"field":"y2"}}},
{"data":{"values":[{"x":-44,"x2":-44,"y":942,"y2":129},{"x":261,"x2":3718,"y":1101,"y2":1101}]},"mark":{"type":"rule","color":"black","strokeWidth":1.5},"encoding":{"x2":{"field":"x2"},"y2":{"field":"y2"}}},
{"data":{"values":[{"x":-44,"y":108}]},"mark":{"type":"point","shape":"triangle-up","filled":true,"size":300,"opacity":1,"color":"black"}},
{"data":{"values":[{"x":3733,"y":1101}]},"mark":{"type":"point","shape":"triangle-right","filled":true,"size":300,"opacity":1,"color":"black"}},
{"data":{"values":[{"x":757,"y":184,"t":"0.4%"}]},"mark":{"type":"text","fontSize":35.5,"color":"#111","baseline":"alphabetic"},"encoding":{"text":{"field":"t"}}},
{"data":{"values":[{"x":2094,"y":1176,"t":"CD11b"}]},"mark":{"type":"text","fontSize":37,"color":"#111","baseline":"middle"},"encoding":{"text":{"field":"t"}}},
{"data":{"values":[{"x":-132,"y":496,"t":"GFP"}]},"mark":{"type":"text","fontSize":35,"color":"#111","baseline":"middle","angle":270},"encoding":{"text":{"field":"t"}}}
]},
{"encoding":{"x":{"field":"x","type":"quantitative","scale":{"domain":[0,1035],"range":[425,770]},"axis":null},"y":{"field":"y","type":"quantitative","scale":{"domain":[0,1035],"range":[497,842]},"axis":null}},
"layer":[
{"data":{"name":"r2c"},"mark":{"type":"square","size":484,"opacity":1,"color":"#2400ee"}},
{"data":{"name":"r2m"},"mark":{"type":"square","size":144,"opacity":1,"color":"#2400ee"}},
{"data":{"name":"r2"},"mark":{"type":"square","size":32,"opacity":1,"color":"#2400ee"}},
{"data":{"values":[{"x":10,"x2":1022,"y":12,"y2":1025}]},"mark":{"type":"rect","fill":"transparent","stroke":"#555","strokeWidth":2},"encoding":{"x2":{"field":"x2"},"y2":{"field":"y2"}}},
{"data":{"values":[{"x":624,"x2":950,"y":209,"y2":664}]},"mark":{"type":"rect","fill":"transparent","stroke":"#222","strokeWidth":2},"encoding":{"x2":{"field":"x2"},"y2":{"field":"y2"}}},
{"data":{"values":[{"x":735,"y":190,"t":"5.1%"}]},"mark":{"type":"text","fontSize":35.5,"color":"#111","baseline":"alphabetic"},"encoding":{"text":{"field":"t"}}}
]},
{"encoding":{"x":{"field":"x","type":"quantitative","scale":{"domain":[0,1035],"range":[772,1117]},"axis":null},"y":{"field":"y","type":"quantitative","scale":{"domain":[0,1035],"range":[497,842]},"axis":null}},
"layer":[
{"data":{"name":"r3c"},"mark":{"type":"square","size":484,"opacity":1,"color":"#2400ee"}},
{"data":{"name":"r3m"},"mark":{"type":"square","size":144,"opacity":1,"color":"#2400ee"}},
{"data":{"name":"r3"},"mark":{"type":"square","size":32,"opacity":1,"color":"#2400ee"}},
{"data":{"values":[{"x":5,"x2":1020,"y":12,"y2":1025}]},"mark":{"type":"rect","fill":"transparent","stroke":"#555","strokeWidth":2},"encoding":{"x2":{"field":"x2"},"y2":{"field":"y2"}}},
{"data":{"values":[{"x":618,"x2":946,"y":210,"y2":664}]},"mark":{"type":"rect","fill":"transparent","stroke":"#222","strokeWidth":2},"encoding":{"x2":{"field":"x2"},"y2":{"field":"y2"}}},
{"data":{"values":[{"x":742,"y":196,"t":"3.8%"}]},"mark":{"type":"text","fontSize":35.5,"color":"#111","baseline":"alphabetic"},"encoding":{"text":{"field":"t"}}}
]},
{"encoding":{"x":{"field":"x","type":"quantitative","scale":{"domain":[0,1035],"range":[1121,1466]},"axis":null},"y":{"field":"y","type":"quantitative","scale":{"domain":[0,1035],"range":[497,842]},"axis":null}},
"layer":[
{"data":{"name":"r4c"},"mark":{"type":"square","size":484,"opacity":1,"color":"#2400ee"}},
{"data":{"name":"r4m"},"mark":{"type":"square","size":144,"opacity":1,"color":"#2400ee"}},
{"data":{"name":"r4"},"mark":{"type":"square","size":32,"opacity":1,"color":"#2400ee"}},
{"data":{"values":[{"x":10,"x2":1022,"y":12,"y2":1025}]},"mark":{"type":"rect","fill":"transparent","stroke":"#555","strokeWidth":2},"encoding":{"x2":{"field":"x2"},"y2":{"field":"y2"}}},
{"data":{"values":[{"x":626,"x2":952,"y":209,"y2":664}]},"mark":{"type":"rect","fill":"transparent","stroke":"#222","strokeWidth":2},"encoding":{"x2":{"field":"x2"},"y2":{"field":"y2"}}},
{"data":{"values":[{"x":762,"y":190,"t":"14.9%"}]},"mark":{"type":"text","fontSize":35.5,"color":"#111","baseline":"alphabetic"},"encoding":{"text":{"field":"t"}}}
]},
{"encoding":{"x":{"field":"x","type":"quantitative","scale":{"domain":[0,1560],"range":[72,767.7]},"axis":null},"y":{"field":"y","type":"quantitative","scale":{"domain":[0,1040],"range":[1125,1475]},"axis":null}},
"layer":[
{"data":{"name":"b1c"},"mark":{"type":"square","size":400,"opacity":1,"color":"#2400ee"}},
{"data":{"name":"b2c"},"mark":{"type":"square","size":400,"opacity":1,"color":"#2400ee"}},
{"data":{"name":"b1m"},"mark":{"type":"square","size":144,"opacity":1,"color":"#2400ee"}},
{"data":{"name":"b2m"},"mark":{"type":"square","size":144,"opacity":1,"color":"#2400ee"}},
{"data":{"name":"b1"},"mark":{"type":"square","size":32,"opacity":1,"color":"#2400ee"}},
{"data":{"name":"b2"},"mark":{"type":"square","size":32,"opacity":1,"color":"#2400ee"}},
{"data":{"values":[{"x":10,"x2":766,"y":17,"y2":1030},{"x":797,"x2":1553,"y":17,"y2":1030}]},"mark":{"type":"rect","fill":"transparent","stroke":"#666","strokeWidth":2},"encoding":{"x2":{"field":"x2"},"y2":{"field":"y2"}}},
{"data":{"values":[{"x":52,"x2":344,"y":282,"y2":580},{"x":998,"x2":1408,"y":85,"y2":647}]},"mark":{"type":"rect","fill":"transparent","stroke":"#222","strokeWidth":2},"encoding":{"x2":{"field":"x2"},"y2":{"field":"y2"}}},
{"data":{"values":[{"x":-33,"x2":-33,"y":962,"y2":163},{"x":258,"x2":1436,"y":1072,"y2":1072}]},"mark":{"type":"rule","color":"black","strokeWidth":1.5},"encoding":{"x2":{"field":"x2"},"y2":{"field":"y2"}}},
{"data":{"values":[{"x":-33,"y":140}]},"mark":{"type":"point","shape":"triangle-up","filled":true,"size":300,"opacity":1,"color":"black"}},
{"data":{"values":[{"x":1451,"y":1072}]},"mark":{"type":"point","shape":"triangle-right","filled":true,"size":300,"opacity":1,"color":"black"}},
{"data":{"values":[{"x":202,"y":262,"t":"2.9%"},{"x":1128,"y":220,"t":"13.4%"},{"x":395,"y":-9,"t":"CD45⁻"},{"x":1128,"y":-9,"t":"CD45⁺"}]},"mark":{"type":"text","fontSize":35,"color":"#111","baseline":"alphabetic"},"encoding":{"text":{"field":"t"}}},
{"data":{"values":[{"x":797,"y":1161,"t":"CD45"}]},"mark":{"type":"text","fontSize":36,"color":"#111","baseline":"middle"},"encoding":{"text":{"field":"t"}}},
{"data":{"values":[{"x":-98,"y":517,"t":"GFP"}]},"mark":{"type":"text","fontSize":35,"color":"#111","baseline":"middle","angle":270},"encoding":{"text":{"field":"t"}}},
{"data":{"values":[{"x":-89,"y":-56,"t":"b"}]},"mark":{"type":"text","fontSize":86,"fontWeight":"bold","color":"black","baseline":"alphabetic"},"encoding":{"text":{"field":"t"}}}
]},
{"data":{"values":[{"g":"SH","v":0.4,"e":0.95},{"g":"Adv-GFP","v":3.07,"e":3.83},{"g":"G4/Adv-GFP","v":3.04,"e":3.43},{"g":"G4/Adv-GFP SH","v":11.54,"e":12.64}]},
"encoding":{"x":{"field":"g","type":"nominal","sort":null,"scale":{"domain":["SH","Adv-GFP","G4/Adv-GFP","G4/Adv-GFP SH"],"range":[1602,1897],"paddingInner":0.389,"paddingOuter":0.385},"axis":{"orient":"bottom","offset":-1285,"labels":false,"title":null}},"y":{"field":"v","type":"quantitative","scale":{"domain":[0,14],"range":[389,43]},"axis":{"orient":"left","offset":-1602,"values":[0,2,4,6,8,10,12,14],"title":"CD11c⁺GFP⁺ (%)","titleFontSize":28,"titlePadding":12}}},
"layer":[
{"mark":{"type":"rule","color":"#555","strokeWidth":1.5},"encoding":{"y2":{"field":"e"}}},
{"mark":{"type":"tick","color":"#555","size":11,"thickness":1.5,"opacity":1},"encoding":{"y":{"field":"e","type":"quantitative","scale":{"domain":[0,14],"range":[389,43]},"axis":{"orient":"left","offset":-1602,"values":[0,2,4,6,8,10,12,14],"title":"CD11c⁺GFP⁺ (%)","titleFontSize":28,"titlePadding":12}}}},
{"mark":{"type":"bar","color":"black"}}
]},
{"encoding":{"x":{"field":"x","type":"quantitative","scale":{"domain":[1,4],"range":[1648,1849.3]},"axis":null},"y":{"field":"y","type":"quantitative","scale":{"domain":[0,14],"range":[389,43]},"axis":null}},
"layer":[
{"data":{"values":[{"x":1.88,"x2":4.26,"y":14.42},{"x":2.81,"x2":4.26,"y":13.03}]},"mark":{"type":"rule","color":"#222","strokeWidth":1.5},"encoding":{"x2":{"field":"x2"}}},
{"data":{"values":[{"x":3.0,"y":14.76,"t":"*"},{"x":3.47,"y":13.35,"t":"*"}]},"mark":{"type":"text","fontSize":48,"fontWeight":"bold","color":"black","baseline":"alphabetic","dy":24},"encoding":{"text":{"field":"t"}}}
]},
{"data":{"values":[{"g":"SH","v":0.3,"e":0.45},{"g":"Adv-GFP","v":4.88,"e":5.18},{"g":"G4/Adv-GFP","v":4.24,"e":4.95},{"g":"G4/Adv-GFP SH","v":16.36,"e":18.57}]},
"encoding":{"x":{"field":"g","type":"nominal","sort":null,"scale":{"domain":["SH","Adv-GFP","G4/Adv-GFP","G4/Adv-GFP SH"],"range":[1602,1898],"paddingInner":0.389,"paddingOuter":0.385},"axis":{"orient":"bottom","offset":-873,"labelAngle":-45,"labelFontSize":34,"labelPadding":5,"title":null}},"y":{"field":"v","type":"quantitative","scale":{"domain":[0,20],"range":[801,456]},"axis":{"orient":"left","offset":-1603,"values":[0,5,10,15,20],"title":"CD11b⁺GFP⁺ (%)","titleFontSize":28,"titlePadding":12}}},
"layer":[
{"mark":{"type":"rule","color":"#555","strokeWidth":1.5},"encoding":{"y2":{"field":"e"}}},
{"mark":{"type":"tick","color":"#555","size":11,"thickness":1.5,"opacity":1},"encoding":{"y":{"field":"e","type":"quantitative","scale":{"domain":[0,20],"range":[801,456]},"axis":{"orient":"left","offset":-1603,"values":[0,5,10,15,20],"title":"CD11b⁺GFP⁺ (%)","titleFontSize":28,"titlePadding":12}}}},
{"mark":{"type":"bar","color":"black"}}
]},
{"encoding":{"x":{"field":"x","type":"quantitative","scale":{"domain":[1,4],"range":[1650,1851]},"axis":null},"y":{"field":"y","type":"quantitative","scale":{"domain":[0,20],"range":[801,456]},"axis":null}},
"layer":[
{"data":{"values":[{"x":1.68,"x2":4.08,"y":21.54},{"x":2.61,"x2":4.08,"y":19.5}]},"mark":{"type":"rule","color":"#222","strokeWidth":1.5},"encoding":{"x2":{"field":"x2"}}},
{"data":{"values":[{"x":2.8,"y":22,"t":"*"},{"x":3.27,"y":19.96,"t":"*"}]},"mark":{"type":"text","fontSize":48,"fontWeight":"bold","color":"black","baseline":"alphabetic","dy":24},"encoding":{"text":{"field":"t"}}}
]},
{"data":{"values":[{"g":"CD45⁻","v":2.94,"e":3.42},{"g":"CD45⁺","v":12.85,"e":15.68}]},
"encoding":{"x":{"field":"g","type":"nominal","sort":null,"scale":{"domain":["CD45⁻","CD45⁺"],"range":[912,1116],"paddingInner":0.589,"paddingOuter":0.405},"axis":{"orient":"bottom","offset":-191,"labelAngle":-35,"labelFontSize":33,"labelPadding":5,"title":null}},"y":{"field":"v","type":"quantitative","scale":{"domain":[0,18],"range":[1483,1130]},"axis":{"orient":"left","offset":-912,"values":[0,3,6,9,12,15,18],"title":"GFP⁺ (%)","titleFontSize":28,"titlePadding":12}}},
"layer":[
{"mark":{"type":"rule","color":"#555","strokeWidth":1.5},"encoding":{"y2":{"field":"e"}}},
{"mark":{"type":"tick","color":"#555","size":11,"thickness":1.5,"opacity":1},"encoding":{"y":{"field":"e","type":"quantitative","scale":{"domain":[0,18],"range":[1483,1130]},"axis":{"orient":"left","offset":-912,"values":[0,3,6,9,12,15,18],"title":"GFP⁺ (%)","titleFontSize":28,"titlePadding":12}}}},
{"mark":{"type":"bar","color":"black"}}
]},
{"encoding":{"x":{"field":"x","type":"quantitative","scale":{"domain":[1,2],"range":[968.5,1061]},"axis":null},"y":{"field":"y","type":"quantitative","scale":{"domain":[0,18],"range":[1483,1130]},"axis":null}},
"layer":[
{"data":{"values":[{"x":0.83,"x2":2.13,"y":16.2}]},"mark":{"type":"rule","color":"#222","strokeWidth":1.5},"encoding":{"x2":{"field":"x2"}}},
{"data":{"values":[{"x":1.52,"y":16.75,"t":"*"}]},"mark":{"type":"text","fontSize":48,"fontWeight":"bold","color":"black","baseline":"alphabetic","dy":24},"encoding":{"text":{"field":"t"}}}
]},
{"data":{"values":[{"g":"Adv-GFP","v":1.002,"e":1.176},{"g":"G4/Adv-GFP","v":1.35,"e":1.62},{"g":"SH","v":0.943,"e":1.059},{"g":"G4/Adv-GFP SH","v":1.434,"e":1.689}]},
"encoding":{"x":{"field":"g","type":"nominal","sort":null,"scale":{"domain":["Adv-GFP","G4/Adv-GFP","SH","G4/Adv-GFP SH"],"range":[1385,1752],"paddingInner":0.388,"paddingOuter":0.4},"axis":{"orient":"bottom","offset":-181,"labelAngle":-38,"labelFontSize":33,"labelPadding":0,"ticks":false,"title":null}},"y":{"field":"v","type":"quantitative","scale":{"domain":[0,2],"range":[1493,1067]},"axis":{"orient":"left","offset":-1390,"values":[0,0.5,1,1.5,2],"format":".1f","labelFontSize":31,"labelPadding":12,"title":"Relative cell death","titleFontSize":41,"titlePadding":29,"titleY":1322}}},
"layer":[
{"mark":{"type":"rule","color":"#555","strokeWidth":1.5},"encoding":{"y2":{"field":"e"}}},
{"mark":{"type":"tick","color":"#555","size":11,"thickness":1.5,"opacity":1},"encoding":{"y":{"field":"e","type":"quantitative","scale":{"domain":[0,2],"range":[1493,1067]},"axis":{"orient":"left","offset":-1390,"values":[0,0.5,1,1.5,2],"format":".1f","labelFontSize":31,"labelPadding":12,"title":"Relative cell death","titleFontSize":41,"titlePadding":29,"titleY":1322}}}},
{"mark":{"type":"bar","color":"black"}}
]},
{"encoding":{"x":{"field":"x","type":"quantitative","scale":{"domain":[1,4],"range":[1443,1693]},"axis":null},"y":{"field":"y","type":"quantitative","scale":{"domain":[0,2],"range":[1493,1067]},"axis":null}},
"layer":[
{"data":{"values":[{"x":0.92,"x2":4.04,"y":2.1},{"x":0.92,"x2":2.76,"y":1.9},{"x":0.92,"x2":2.01,"y":1.703}]},"mark":{"type":"rule","color":"#222","strokeWidth":1.5},"encoding":{"x2":{"field":"x2"}}},
{"data":{"values":[{"x":2.62,"y":2.175,"t":"NS"},{"x":2.0,"y":1.974,"t":"NS"},{"x":1.48,"y":1.786,"t":"NS"}]},"mark":{"type":"text","fontSize":36,"color":"#111","baseline":"middle"},"encoding":{"text":{"field":"t"}}},
{"data":{"values":[{"x":-1.7,"y":2.02,"t":"c"}]},"mark":{"type":"text","fontSize":86,"fontWeight":"bold","color":"black","baseline":"alphabetic"},"encoding":{"text":{"field":"t"}}}
]}
]}
